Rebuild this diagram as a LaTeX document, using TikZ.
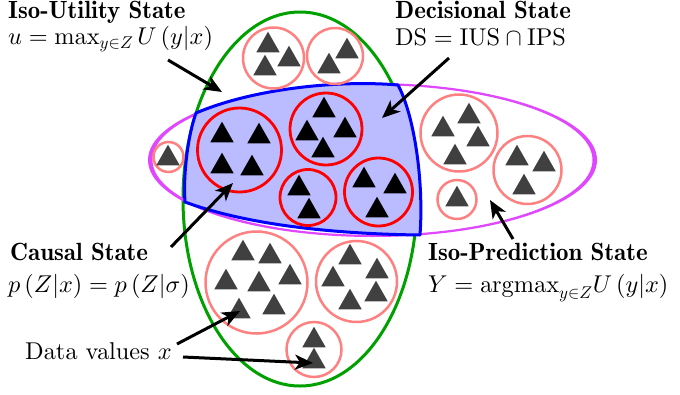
\documentclass[tikz,border=0pt]{standalone}
\usetikzlibrary{arrows.meta}
\DeclareFontShape{OT1}{cmr}{m}{n}{<->cmr10}{}
\DeclareFontShape{OT1}{cmr}{bx}{n}{<->cmbx10}{}
\DeclareFontShape{OML}{cmm}{m}{it}{<->cmmi10}{}
\DeclareFontShape{OMS}{cmsy}{m}{n}{<->cmsy10}{}
\definecolor{dsblue}{RGB}{0,0,255}
\definecolor{dsfill}{RGB}{187,187,255}
\definecolor{iusgreen}{RGB}{0,160,0}
\definecolor{ipsmag}{RGB}{224,72,255}
\definecolor{pinkc}{RGB}{255,128,128}
\definecolor{tridark}{RGB}{64,64,64}
\newcommand{\tri}[3]{\fill[#3] (#1,#2) ++(0,-10.3) -- ++(11.7,20.6) -- ++(-23.4,0) -- cycle;}
\begin{document}
\begin{tikzpicture}[x=1pt,y=-1pt,
  arr/.style={line width=3pt, -{Stealth[length=18pt,width=15pt,inset=5pt]}},
  lbl/.style={anchor=base west, inner sep=0pt,
    font=\fontencoding{OT1}\fontfamily{cmr}\fontsize{24.3}{28}\selectfont},
  pinkcirc/.style={draw=pinkc, line width=2.5pt},
  redcirc/.style={draw=red, line width=2.8pt}]
\useasboundingbox (0,0) rectangle (680,394);
% iso-utility (green)
\draw[iusgreen, line width=3pt] (300,199) ellipse [x radius=117pt, y radius=187pt];
% iso-prediction (magenta, varying width)
\fill[ipsmag, even odd rule] (372.5,160) ellipse [x radius=224.5pt, y radius=77pt]
  (372.5,160) ellipse [x radius=220pt, y radius=74.8pt];
% decisional state
\draw[dsblue, fill=dsfill, line width=3pt, line join=round]
  (196,113) .. controls (255,88) and (340,80) .. (398,85)
  .. controls (414,115) and (424,180) .. (420,235)
  .. controls (340,234) and (250,226) .. (185,202)
  .. controls (183,175) and (188,135) .. cycle;
% red circles (causal states inside DS)
\draw[redcirc] (239.5,150) circle[radius=42pt];
\tri{222}{132}{black}\tri{259}{133}{black}\tri{222}{163}{black}\tri{252}{165}{black}
\draw[redcirc] (326,129) circle[radius=36pt];
\tri{324}{107}{black}\tri{307}{130}{black}\tri{345}{127}{black}\tri{323}{147}{black}
\draw[redcirc] (308,197.5) circle[radius=28pt];
\tri{299}{185}{black}\tri{309}{208}{black}
\draw[redcirc] (378.5,192) circle[radius=34pt];
\tri{364}{177}{black}\tri{395}{183}{black}\tri{377}{207}{black}
% pink circles
\draw[pinkcirc] (273.5,58) circle[radius=30.5pt];
\tri{268}{42}{tridark}\tri{289}{56}{tridark}\tri{265}{65}{tridark}
\draw[pinkcirc] (335,56) circle[radius=28pt];
\tri{347}{48}{tridark}\tri{329}{63}{tridark}
\draw[pinkcirc] (168.5,157) circle[radius=15pt];
\tri{168}{155}{tridark}
\draw[pinkcirc] (459,133) circle[radius=38.5pt];
\tri{469}{113}{tridark}\tri{443}{126}{tridark}\tri{478}{136}{tridark}\tri{455}{154}{tridark}
\draw[pinkcirc] (527.5,170) circle[radius=34pt];
\tri{517}{155}{tridark}\tri{544}{161}{tridark}\tri{524}{184}{tridark}
\draw[pinkcirc] (457,199.5) circle[radius=19.5pt];
\tri{457}{196}{tridark}
\draw[pinkcirc] (256.5,282.5) circle[radius=51pt];
\tri{243}{250}{tridark}\tri{270}{253}{tridark}\tri{226}{279}{tridark}\tri{259}{281}{tridark}
\tri{290}{274}{tridark}\tri{239}{308}{tridark}\tri{274}{304}{tridark}
\draw[pinkcirc] (356.5,281.5) circle[radius=40.5pt];
\tri{350}{254}{tridark}\tri{377}{268}{tridark}\tri{333}{276}{tridark}\tri{350}{299}{tridark}\tri{376}{291}{tridark}
\draw[pinkcirc] (314,349.5) circle[radius=27.5pt];
\tri{314}{337}{tridark}\tri{314}{358}{tridark}
% labels
\node[lbl] (iusT) at (8,18.7) {\bfseries Iso-Utility State};
\node[lbl] (iusM) at (8,44.5) {$u=\max_{y\in Z}U\left(y|x\right)$};
\node[lbl] (dsT) at (395,18.7) {\bfseries Decisional State};
\node[lbl] (dsM) at (395,45.5) {$\mathrm{DS}=\mathrm{IUS}\cap\mathrm{IPS}$};
\node[lbl] (csT) at (10,260) {\bfseries Causal State};
\node[lbl] (csM) at (8,292) {$p\left(Z|x\right)=p\left(Z|\sigma\right)$};
\node[lbl] (ipsT) at (428,260.7) {\bfseries Iso-Prediction State};
\node[lbl] (ipsM) at (428,292.7) {$Y=\mathrm{argmax}_{y\in Z}U\left(y|x\right)$};
\node[lbl] (dv) at (25,359) {Data values $x$};
% arrows
\coordinate (a1s) at (168,60);  \coordinate (a1e) at (222,92);
\coordinate (a2s) at (449,58);  \coordinate (a2e) at (382,118);
\coordinate (a3s) at (171,247); \coordinate (a3e) at (233,183);
\coordinate (a4s) at (513,239); \coordinate (a4e) at (490,200);
\coordinate (a5s) at (177,344); \coordinate (a5e) at (240,311);
\coordinate (a6s) at (183,357); \coordinate (a6e) at (313,363);
\draw[arr] (a1s) -- (a1e);
\draw[arr] (a2s) -- (a2e);
\draw[arr] (a3s) -- (a3e);
\draw[arr] (a4s) -- (a4e);
\draw[arr] (a5s) -- (a5e);
\draw[arr] (a6s) -- (a6e);
\end{tikzpicture}
\end{document}
